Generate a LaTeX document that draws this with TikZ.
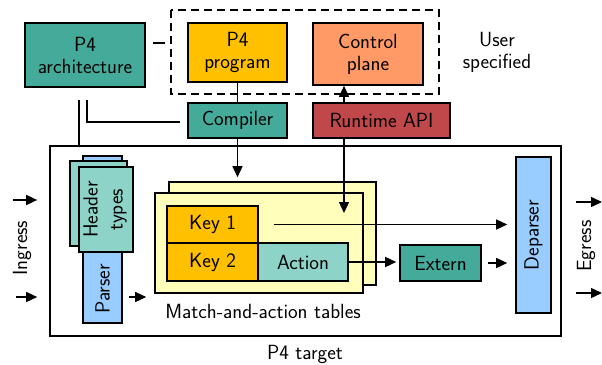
\documentclass[tikz,border=0pt]{standalone}
\usetikzlibrary{arrows.meta}
\definecolor{teal4}{HTML}{44AA99}
\definecolor{lteal}{HTML}{8DD3C7}
\definecolor{orng}{HTML}{FFC000}
\definecolor{salmon}{HTML}{FF9966}
\definecolor{rtred}{HTML}{C0474A}
\definecolor{lblue}{HTML}{99CCFF}
\definecolor{lyellow}{HTML}{FFFFBB}
\begin{document}
\begin{tikzpicture}[
		x=1pt, y=-1pt,
		font=\sffamily\fontsize{20.5}{22}\selectfont,
		box/.style={draw, line width=1.6pt, rectangle, inner sep=0pt, align=center},
		arr/.style={line width=1.4pt, -{Triangle[length=11pt,width=10pt]}},
		conn/.style={line width=1.4pt}
		]
		\useasboundingbox (0,0) rectangle (602,364);
		% User specified part
		\draw[line width=1.5pt, dash pattern=on 8pt off 5pt] (171,10) rectangle (439,94);
		\coordinate (userw) at (171,43);
		\node[box, fill=teal4, minimum width=120pt, minimum height=64pt] (arch) at (85,55) {P4\\architecture};
		\node[box, fill=orng, minimum width=99pt, minimum height=59pt] (prog) at (237.5,52.5) {P4\\program};
		\node[box, fill=salmon, minimum width=110pt, minimum height=62pt] (ctrl) at (368,54) {Control\\plane};
		\node[align=center] (user) at (497,52) {User\\specified};
		\node[box, fill=teal4, minimum width=99pt, minimum height=35pt] (comp) at (237.5,120.5) {Compiler};
		\node[box, fill=rtred, minimum width=137pt, minimum height=35pt] (rt) at (381.5,120.5) {Runtime API};
		% P4 target
		\node[box, fill=white, minimum width=511pt, minimum height=190pt] (target) at (305.5,241) {};
		\node (tgtlbl) at (305,354) {P4 target};
		% Parser and header types
		\node[box, fill=lblue, minimum width=39pt, minimum height=167pt] (parser) at (102.5,239.5) {};
		\node[rotate=90] (parserlbl) at (102.5,289) {Parser};
		\node[box, fill=lteal, minimum width=57pt, minimum height=85pt] (hdrback) at (98.5,203.5) {};
		\node[box, fill=lteal, minimum width=54pt, minimum height=85pt] (hdr) at (106,209.5) {};
		\node[rotate=90, align=center, font=\sffamily\fontsize{20.5}{25}\selectfont] (hdrlbl) at (105,209.5) {Header\\types};
		% Match-and-action tables
		\node[box, fill=lyellow, minimum width=207pt, minimum height=103pt] (tblback) at (272.5,233.5) {};
		\node[box, fill=lyellow, minimum width=208pt, minimum height=100pt] (tbl) at (259,243) {};
		\node[box, fill=orng, minimum width=91pt, minimum height=37pt] (key1) at (212.5,224.5) {Key 1};
		\node[box, fill=orng, minimum width=91pt, minimum height=38pt] (key2) at (212.5,262) {Key 2};
		\node[box, fill=lteal, minimum width=90pt, minimum height=38pt] (act) at (303,262) {Action};
		\node (tbllbl) at (263,311) {Match-and-action tables};
		\node[box, fill=teal4, minimum width=81pt, minimum height=36pt] (ext) at (440.5,263) {Extern};
		\node[box, fill=lblue, minimum width=35pt, minimum height=156pt] (dep) at (533.5,235) {};
		\node[rotate=90] (deplbl) at (533.5,235) {Deparser};
		% Ingress / egress
		\node[rotate=90] (ingress) at (22,248) {Ingress};
		\node[rotate=90] (egress) at (586,246) {Egress};
		\coordinate (in1) at (13,200);
		\coordinate (in2) at (16,297);
		\coordinate (out1) at (576,202);
		\coordinate (out2) at (576,293);
		\coordinate (rtend) at (344,213);
		% Connectors
		\draw[conn, dash pattern=on 12pt off 12pt, shorten <=7pt] ([yshift=12pt]arch.east) -- (userw);
		\draw[conn, shorten <=12pt] ([xshift=-6pt]arch.south) -- ([xshift=-6pt]arch.south |- target.north);
		\draw[conn, shorten <=12pt, shorten >=7pt] ([xshift=2pt]arch.south) |- ([yshift=-1.5pt]comp.west);
		\draw[conn] (prog.south) -- (comp.north);
		\draw[arr, shorten >=4pt] (comp.south) -- (comp.south |- tblback.north);
		\draw[arr] (rtend |- rt.north) -- (rtend |- ctrl.south);
		\draw[arr] (rtend |- rt.south) -- (rtend);
		\draw[arr, shorten <=15pt, shorten >=8pt] (key1.east) -- (key1.east -| dep.west);
		\draw[arr, shorten >=3pt] (act.east) -- (act.east -| ext.west);
		\draw[arr, shorten <=6pt, shorten >=8pt] (ext.east) -- (ext.east -| dep.west);
		\draw[arr, shorten <=6pt, shorten >=8pt] (parser.east |- 0,297) -- (tbl.west |- 0,297);
		\draw[arr, shorten >=12pt] (in1) -- (in1 -| target.west);
		\draw[arr, shorten >=12pt] (in2) -- (in2 -| target.west);
		\draw[arr] (out1) -- (602,202);
		\draw[arr] (out2) -- (602,293);
	\end{tikzpicture}
\end{document}
